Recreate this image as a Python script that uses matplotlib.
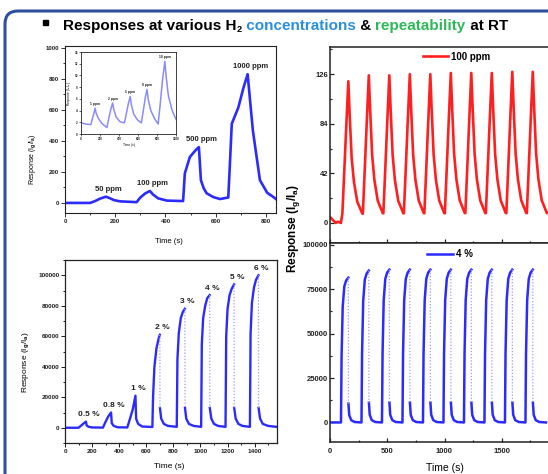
import numpy as np
import matplotlib.pyplot as plt
import matplotlib.ticker as mticker
from matplotlib.patches import FancyBboxPatch, Rectangle

plt.rcParams['font.family'] = ['Liberation Sans', 'DejaVu Sans']
plt.rcParams['font.weight'] = 'bold'
plt.rcParams['mathtext.fontset'] = 'custom'
plt.rcParams['mathtext.rm'] = 'Liberation Sans:bold'
plt.rcParams['mathtext.it'] = 'Liberation Sans:bold'
plt.rcParams['mathtext.bf'] = 'Liberation Sans:bold'
plt.rcParams['mathtext.default'] = 'rm'

# ---- top left: response to H2 in ppm ----
ppm_time = [0, 100, 120, 140, 163, 175, 195, 220, 285, 300, 320, 338, 350, 370, 405, 470,
            472, 477, 497, 520, 533, 541, 552, 564, 590, 617, 650, 655, 664, 690, 710, 727,
            748, 776, 805, 828, 840]
ppm_resp = [0, 0, 12, 28, 40, 33, 18, 10, 5, 35, 62, 77, 55, 30, 15, 12,
            60, 190, 296, 340, 360, 147, 95, 62, 38, 25, 35, 200, 511, 615, 740, 830,
            466, 147, 65, 40, 25]
ppm_peak_time = [163, 338, 533, 727]
ppm_peak_resp = [40, 77, 360, 830]
ppm_labels = ['50 ppm', '100 ppm', '500 ppm', '1000 ppm']

# inset (low ppm)
inset_time = [0, 50, 103, 120, 140, 149, 160, 185, 220, 273, 290, 315, 333, 345, 370, 410,
              457, 475, 500, 518, 530, 555, 595, 635, 655, 680, 695, 707, 735, 775, 812,
              830, 860, 883, 895, 920, 960, 1000]
inset_resp = [1.9, 1.7, 1.6, 2.6, 3.8, 4.4, 3.5, 2.6, 1.8, 1.1, 2.5, 4.3, 5.3, 4.2, 2.9, 2.1,
              1.9, 3.3, 5.3, 6.4, 5.0, 3.4, 2.4, 1.9, 3.9, 6.5, 7.6, 6.0, 4.0, 2.6, 1.7,
              4.5, 9.5, 12.4, 10.0, 6.5, 4.0, 2.5]
inset_peak_time = [149, 333, 518, 695, 883]
inset_peak_resp = [4.4, 5.3, 6.4, 7.6, 12.4]
inset_labels = ['1 ppm', '2 ppm', '5 ppm', '8 ppm', '10 ppm']

# ---- bottom left: response to H2 in % ----
pct_time = [0, 100, 120, 140, 155, 160, 175, 200, 280, 300, 320, 340, 345, 360, 390, 460,
            480, 500, 520, 525, 540, 570, 645,
            650, 660, 675, 690, 700, 701, 710, 730, 760, 825,
            830, 840, 855, 870, 885, 886, 895, 915, 950, 1005,
            1010, 1020, 1035, 1050, 1068, 1069, 1080, 1100, 1130, 1185,
            1190, 1200, 1215, 1230, 1248, 1249, 1260, 1280, 1310, 1365,
            1370, 1380, 1395, 1410, 1428, 1429, 1440, 1460, 1500, 1560]
pct_resp = [0, 0, 1500, 3000, 4000, 1500, 600, 200, 100, 4000, 7500, 10000, 3000, 1200, 300, 200,
            6000, 12000, 21000, 6000, 2500, 800, 500,
            20000, 40000, 52000, 58000, 61000, 13000, 6000, 2500, 1200, 600,
            45000, 62000, 72000, 76000, 78000, 13000, 6000, 2500, 1200, 600,
            55000, 72000, 80000, 85000, 87000, 13000, 6000, 2500, 1200, 600,
            60000, 78000, 87000, 91000, 94000, 13000, 6000, 2500, 1200, 600,
            62000, 82000, 92000, 97000, 100000, 13000, 6000, 2500, 1200, 600]
pct_peak_time = [155, 340, 520, 700, 885, 1068, 1248, 1428]
pct_peak_resp = [4000, 10000, 21000, 61000, 78000, 87000, 94000, 100000]
pct_labels = ['0.5 %', '0.8 %', '1 %', '2 %', '3 %', '4 %', '5 %', '6 %']

# ---- right: repeatability, 100 ppm ----
rep100_pre_time = [0, 30, 50, 70, 95]
rep100_pre_resp = [5, 2, 0, 1, 0]
rep100_start = [108, 287, 466, 645, 824, 1003, 1182, 1361, 1540, 1719]
rep100_peak = [120, 125, 125, 126, 126, 127, 127, 127, 128, 128]
rep100_shape_dt = [0, 17, 35, 52, 64, 81, 101, 130, 174, 179]
rep100_shape_frac = [0.065, 0.37, 0.7, 1.0, 0.76, 0.46, 0.29, 0.15, 0.066, 0.065]

# ---- right: repeatability, 4 % ----
rep4_start = [96, 275, 454, 633, 812, 991, 1170, 1349, 1528, 1707]
rep4_peak = [81500, 85500, 86000, 86000, 86000, 86000, 86000, 86000, 86000, 86000]
rep4_shape_dt = [0, 5, 15, 29, 45, 64, 65, 72, 90, 120, 179]
rep4_shape_frac = [0, 0.45, 0.8, 0.94, 0.98, 1.0, 0.13, 0.05, 0.015, 0.003, 0]

BLUE = '#2b2bff'
LIGHT_BLUE = '#9a9aff'
RED = '#ff1f1f'
INK = '#222222'


def build_cycles(pre_t, pre_r, starts, peaks, dt, frac):
    t, r = list(pre_t), list(pre_r)
    for s, p in zip(starts, peaks):
        t += [s + d for d in dt]
        r += [p * f for f in frac]
    return np.array(t, float), np.array(r, float)


def plot_with_drops(ax, t, r, thresh, color, lw):
    # steep drops are drawn faint and dotted as in the measured data
    t = np.asarray(t, float)
    r = np.asarray(r, float)
    idx = np.where(np.diff(r) < -thresh)[0]
    ax.plot(np.insert(t, idx + 1, np.nan), np.insert(r, idx + 1, np.nan), color=color, lw=lw)
    for i in idx:
        ax.plot(t[i:i + 2], r[i:i + 2], color=LIGHT_BLUE, lw=0.9, ls=(0, (1, 1.5)))


def style(ax, size, width, direction='out'):
    ax.tick_params(which='both', direction=direction, labelsize=size, width=width * 0.8,
                   colors=INK, pad=1.5)
    ax.tick_params(which='major', length=2.6)
    ax.tick_params(which='minor', length=1.5)
    for sp in ax.spines.values():
        sp.set_linewidth(width)
        sp.set_color(INK)


fig = plt.figure(figsize=(5.48, 4.74), dpi=100)

# slide background
bg = fig.add_axes([0, 0, 1, 1])
bg.set_xlim(0, 548)
bg.set_ylim(474, 0)
bg.axis('off')
bg.add_patch(FancyBboxPatch((5, 11), 640, 560, boxstyle='round,pad=0,rounding_size=13',
                            lw=2.2, ec='#2e4f9a', fc='white'))
bg.add_patch(Rectangle((43, 20), 4.5, 4.5, color='black'))
ts = 11.0
kw = dict(fontsize=ts, fontweight='bold')
p1 = bg.text(63, 30, 'Responses at various H', color='black', va='baseline', **kw)
p2 = bg.annotate('2', xy=(1, 0), xycoords=p1, xytext=(0.3, -1.0), textcoords='offset points',
                 va='bottom', fontsize=ts * 0.6, fontweight='bold')
p3 = bg.annotate(' concentrations', xy=(1, 0), xycoords=(p2, p1), va='bottom', color='#2a8fdc', **kw)
p4 = bg.annotate(' & ', xy=(1, 0), xycoords=p3, va='bottom', color='black', **kw)
p5 = bg.annotate('repeatability', xy=(1, 0), xycoords=p4, va='bottom', color='#2fb85a', **kw)
p6 = bg.annotate(' at RT', xy=(1, 0), xycoords=p5, va='bottom', color='black', **kw)

ylab = 'Response (I$_g$/I$_a$)'

# top left
ax1 = fig.add_axes([65 / 548, 1 - 213 / 474, 211 / 548, 167 / 474])
ax1.plot(ppm_time, ppm_resp, color=BLUE, lw=1.9)
for x, y, s in zip(ppm_peak_time, ppm_peak_resp, ppm_labels):
    ax1.annotate(s, (x, y), xytext=(2, 3), textcoords='offset points', ha='center',
                 va='bottom', fontsize=5.5, color=INK)
ax1.set_xlim(0, 840)
ax1.set_ylim(-65, 1012)
ax1.xaxis.set_major_locator(mticker.MultipleLocator(200))
ax1.xaxis.set_minor_locator(mticker.MultipleLocator(100))
ax1.yaxis.set_major_locator(mticker.MultipleLocator(200))
ax1.yaxis.set_minor_locator(mticker.MultipleLocator(100))
style(ax1, 4.3, 0.8)
ax1.set_xlabel('Time (s)', fontsize=5.5)
ax1.xaxis.set_label_coords(0.49, -0.15)
ax1.set_ylabel(ylab, fontsize=5)
ax1.yaxis.set_label_coords(-0.13, 0.32)

# inset
axi = fig.add_axes([81 / 548, 1 - 134 / 474, 95 / 548, 82 / 474])
axi.plot(inset_time, inset_resp, color='#8a8aff', lw=1.1)
for x, y, s in zip(inset_peak_time, inset_peak_resp, inset_labels):
    axi.annotate(s, (x, y), xytext=(0, 1.5), textcoords='offset points', ha='center',
                 va='bottom', fontsize=2.4, color=INK)
axi.set_xlim(0, 1000)
axi.set_ylim(0, 14)
axi.xaxis.set_major_locator(mticker.MultipleLocator(200))
axi.yaxis.set_major_locator(mticker.MultipleLocator(2))
style(axi, 2.2, 0.6)
axi.tick_params(which='major', length=1.5, pad=0.8)
axi.set_xlabel('Time (s)', fontsize=2.3, labelpad=1)
axi.set_ylabel(ylab, fontsize=2.3, labelpad=1)

# bottom left
ax2 = fig.add_axes([65 / 548, 1 - 443 / 474, 212 / 548, 183 / 474])
plot_with_drops(ax2, pct_time, pct_resp, 20000, BLUE, 1.7)
for x, y, s in zip(pct_peak_time, pct_peak_resp, pct_labels):
    ax2.annotate(s, (x, y), xytext=(2, 2.5), textcoords='offset points', ha='center',
                 va='bottom', fontsize=6, color=INK)
ax2.set_xlim(0, 1565)
ax2.set_ylim(-10000, 110000)
ax2.xaxis.set_major_locator(mticker.MultipleLocator(200))
ax2.xaxis.set_minor_locator(mticker.MultipleLocator(100))
ax2.yaxis.set_major_locator(mticker.MultipleLocator(20000))
ax2.yaxis.set_minor_locator(mticker.MultipleLocator(10000))
style(ax2, 4.6, 0.9)
ax2.set_xlabel('Time (s)', fontsize=6)
ax2.xaxis.set_label_coords(0.49, -0.11)
ax2.set_ylabel(ylab, fontsize=6)
ax2.yaxis.set_label_coords(-0.16, 0.44)

# right top (100 ppm repeatability); x axis runs past the slide edge
t100, r100 = build_cycles(rep100_pre_time, rep100_pre_resp, rep100_start, rep100_peak,
                          rep100_shape_dt, rep100_shape_frac)
ax3 = fig.add_axes([330 / 548, 1 - 243 / 474, 229 / 548, 196 / 474])
ax3.plot(t100, r100, color=RED, lw=1.9, label='100 ppm')
ax3.set_xlim(0, 2000)
ax3.set_ylim(-17, 149)
ax3.xaxis.set_major_locator(mticker.FixedLocator([0, 500, 1000, 1500]))
ax3.xaxis.set_minor_locator(mticker.MultipleLocator(250))
ax3.yaxis.set_major_locator(mticker.MultipleLocator(42))
ax3.yaxis.set_minor_locator(mticker.MultipleLocator(21))
style(ax3, 5.5, 1.1, 'in')
ax3.tick_params(axis='x', labelbottom=False)
ax3.legend(loc='upper left', bbox_to_anchor=(0.405, 0.975), frameon=False, fontsize=7,
           handlelength=2.6, handletextpad=0.3, borderpad=0, borderaxespad=0)

# right bottom (4 % repeatability)
t4, r4 = build_cycles([0], [0], rep4_start, rep4_peak, rep4_shape_dt, rep4_shape_frac)
ax4 = fig.add_axes([330 / 548, 1 - 442 / 474, 229 / 548, 199 / 474])
plot_with_drops(ax4, t4, r4, 20000, BLUE, 1.8)
ax4.plot([], [], color=BLUE, lw=1.8, label='4 %')
ax4.set_xlim(0, 2000)
ax4.set_ylim(-11000, 101000)
ax4.xaxis.set_major_locator(mticker.FixedLocator([0, 500, 1000, 1500]))
ax4.xaxis.set_minor_locator(mticker.MultipleLocator(250))
ax4.yaxis.set_major_locator(mticker.MultipleLocator(25000))
ax4.yaxis.set_minor_locator(mticker.MultipleLocator(12500))
style(ax4, 5.5, 1.1, 'in')
ax4.tick_params(axis='x', pad=4)
ax4.legend(loc='upper left', bbox_to_anchor=(0.425, 0.97), frameon=False, fontsize=7,
           handlelength=2.6, handletextpad=0.3, borderpad=0, borderaxespad=0)
ax4.set_xlabel('Time (s)', fontsize=7.5, labelpad=6)
fig.text(293 / 548, 1 - 228 / 474, ylab, rotation=90, ha='center', va='center', fontsize=8.5)

fig.savefig('out.png', dpi=100)
